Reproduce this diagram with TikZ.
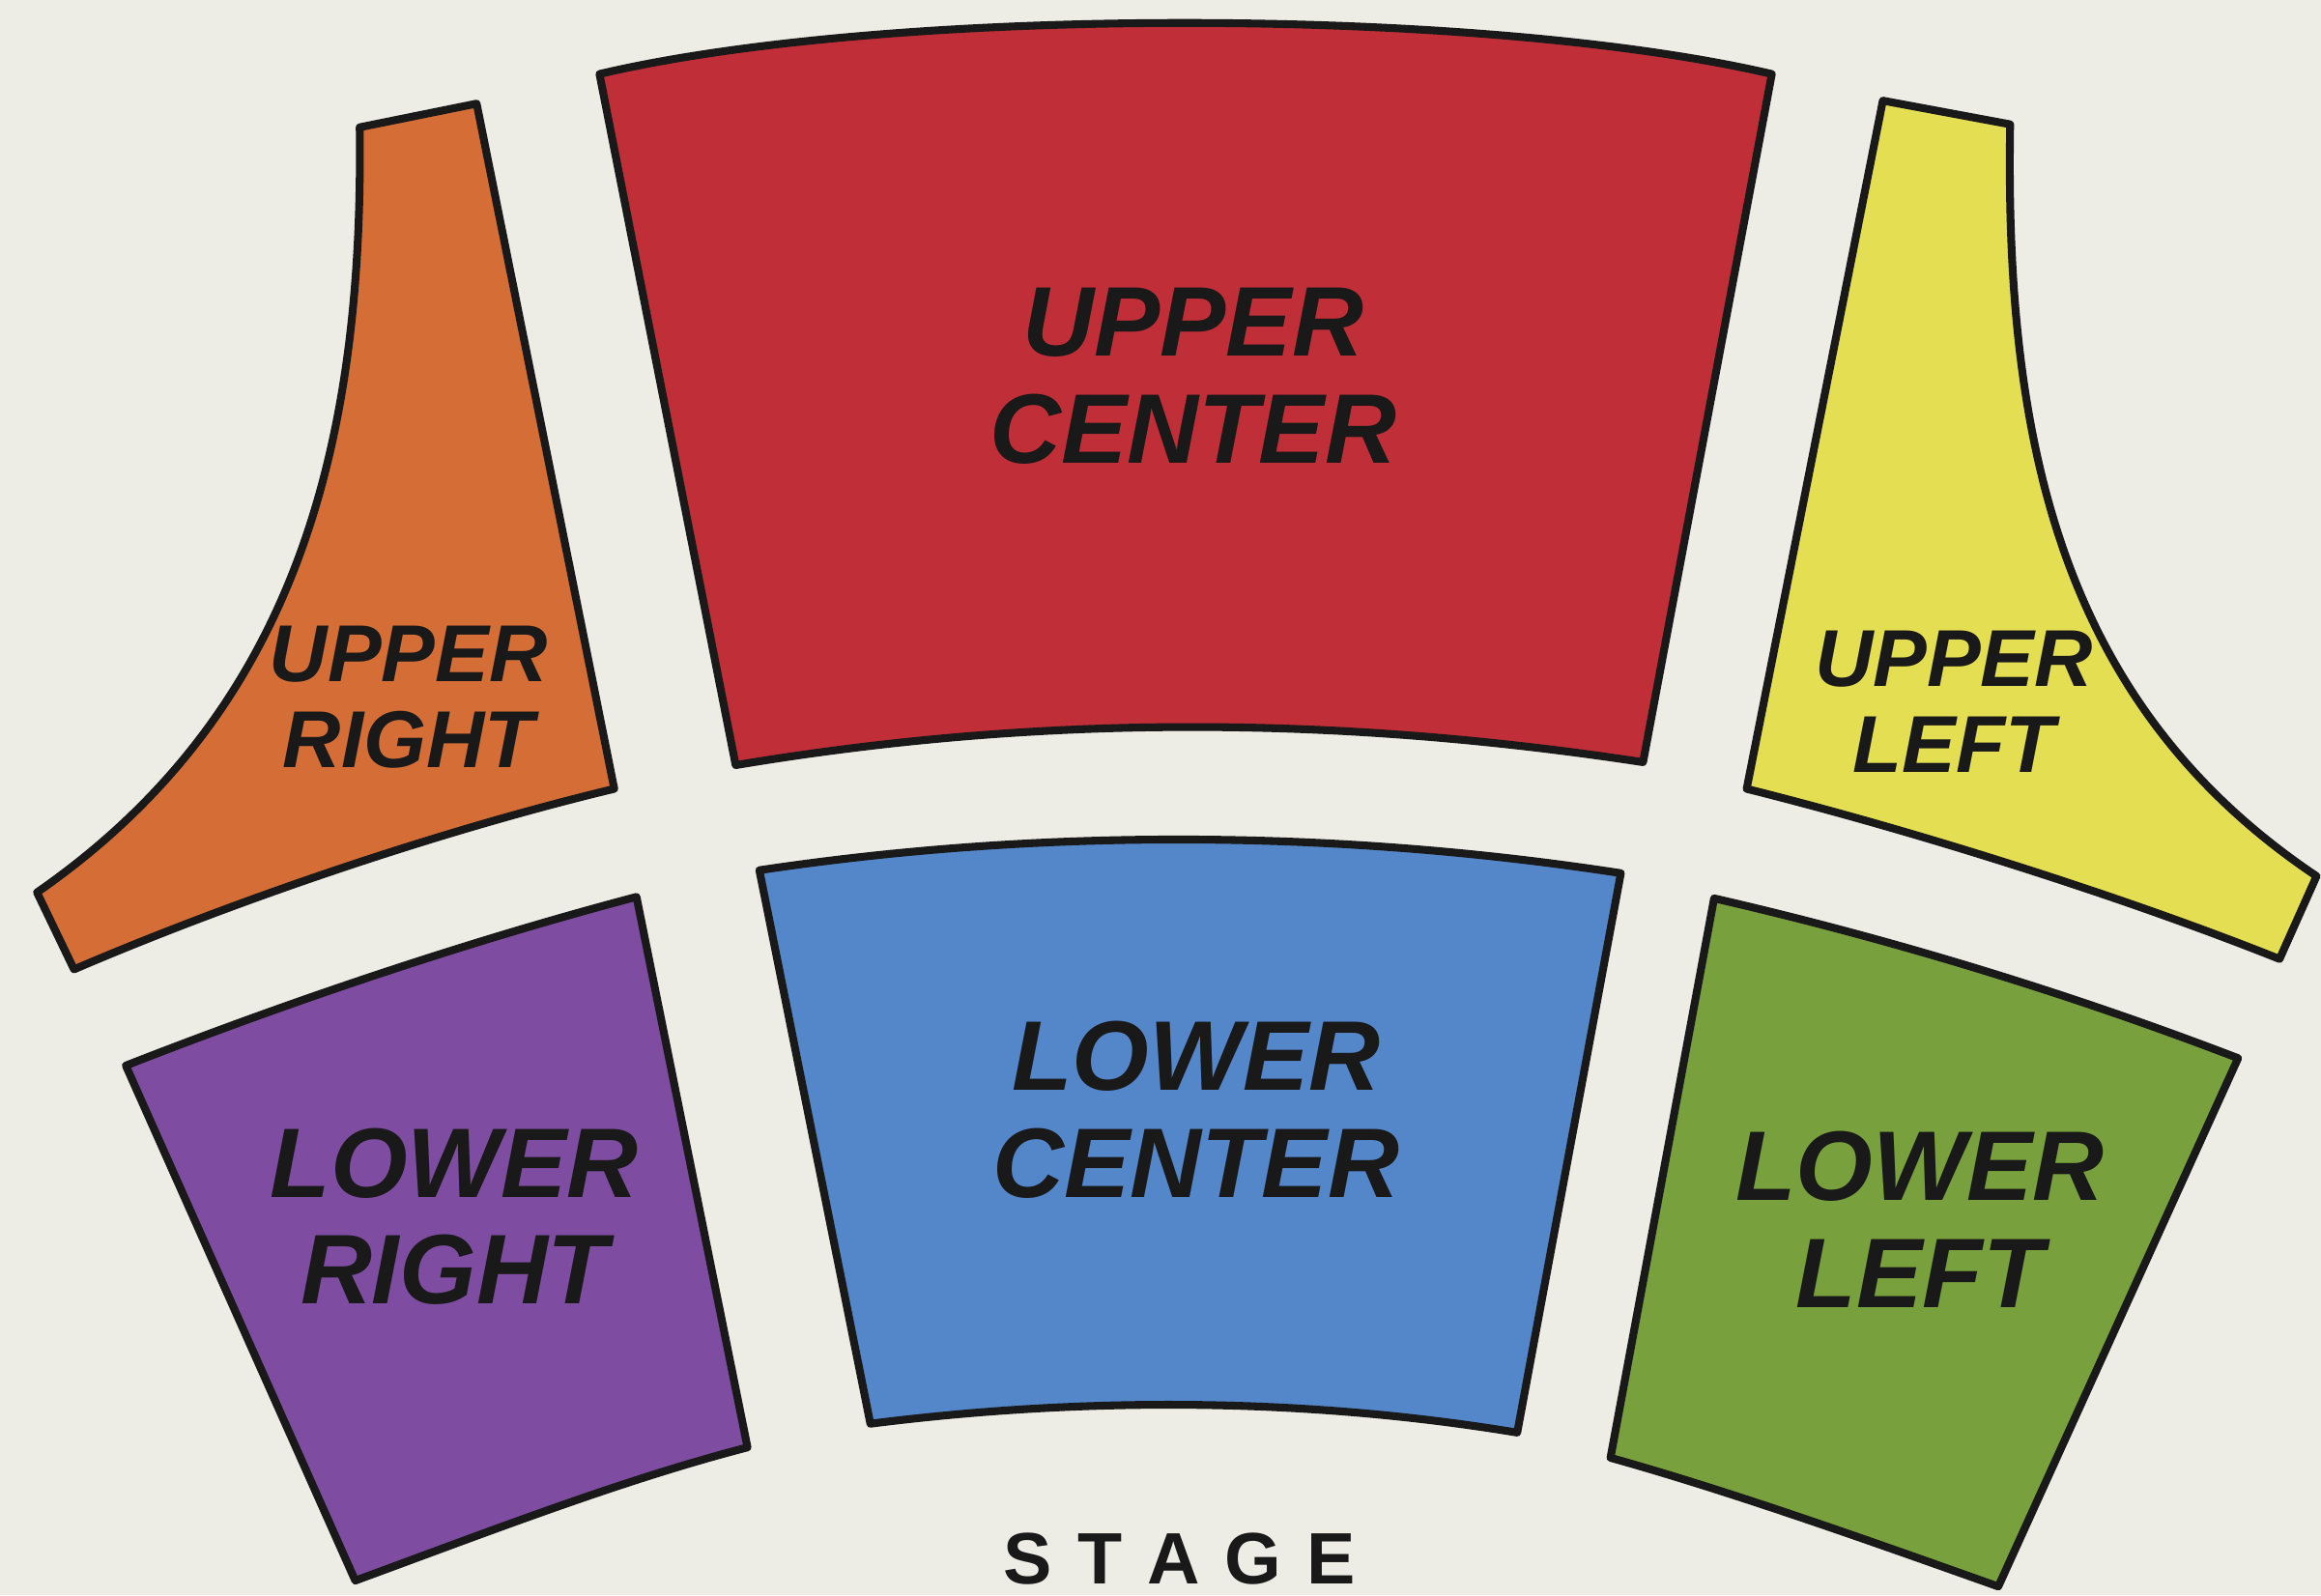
\documentclass[tikz,border=0pt]{standalone}
\usepackage{fontspec}
\setmainfont{Liberation Sans}
\definecolor{bgpaper}{RGB}{237,236,229}
\definecolor{secred}{RGB}{192,46,55}
\definecolor{secorange}{RGB}{212,110,54}
\definecolor{secyellow}{RGB}{228,222,82}
\definecolor{secpurple}{RGB}{126,76,160}
\definecolor{secblue}{RGB}{84,134,202}
\definecolor{secgreen}{RGB}{120,160,60}
\tikzset{
  section/.style={draw=black!90, line width=1.5pt, line join=round},
  biglabel/.style={font=\fontsize{19}{20.5}\selectfont\bfseries\itshape, align=center, text=black!90, inner sep=0pt},
  smalllabel/.style={font=\fontsize{15.5}{16.5}\selectfont\bfseries\itshape, align=center, text=black!90, inner sep=0pt},
}
\begin{document}
\begin{tikzpicture}[x=0.01cm, y=-0.01cm]
\fill[bgpaper] (0,0) rectangle (1568,1078);
\useasboundingbox (0,0) rectangle (1568,1078);

% Upper center
\path[section, fill=secred] (405,50) .. controls (600,4) and (1000,4) .. (1197,50)
  -- (1110,515) .. controls (900,483) and (700,483) .. (497,517) -- cycle;
% Lower center
\path[section, fill=secblue] (513,588) .. controls (700,560) and (900,560) .. (1095,590)
  -- (1025,968) .. controls (880,944) and (730,944) .. (588,962) -- cycle;
% Upper right (orange)
\path[section, fill=secorange] (243,86) -- (322,70) -- (415,533)
  .. controls (290,563) and (150,612) .. (50,655) -- (25,603)
  .. controls (195,485) and (246,310) .. (243,86) -- cycle;
% Upper left (yellow)
\path[section, fill=secyellow] (1272,68) -- (1358,84)
  .. controls (1354,310) and (1398,480) .. (1565,592) -- (1540,648)
  .. controls (1440,608) and (1300,563) .. (1180,533) -- cycle;
% Lower right (purple)
\path[section, fill=secpurple] (85,720) .. controls (200,675) and (320,635) .. (430,606)
  -- (505,978) .. controls (420,1000) and (330,1035) .. (240,1068) -- cycle;
% Lower left (green)
\path[section, fill=secgreen] (1158,607) .. controls (1280,635) and (1400,672) .. (1512,715)
  -- (1350,1072) .. controls (1260,1040) and (1170,1008) .. (1088,985) -- cycle;

\node[biglabel] (uc) at (806,254) {UPPER\\CENTER};
\node[biglabel] (lc) at (808,750) {LOWER\\CENTER};
\node[biglabel] (lr) at (307,822) {LOWER\\RIGHT};
\node[biglabel] (ll) at (1297,824) {LOWER\\LEFT};
\node[smalllabel] (ur) at (276,471) {UPPER\\RIGHT};
\node[smalllabel] (ul) at (1320,474) {UPPER\\LEFT};
\node[font=\fontsize{14}{16}\selectfont\bfseries, text=black!90, inner sep=0pt] (stage) at (797,1053)
  {S\kern0.17cm T\kern0.17cm A\kern0.17cm G\kern0.17cm E};
\end{tikzpicture}
\end{document}
